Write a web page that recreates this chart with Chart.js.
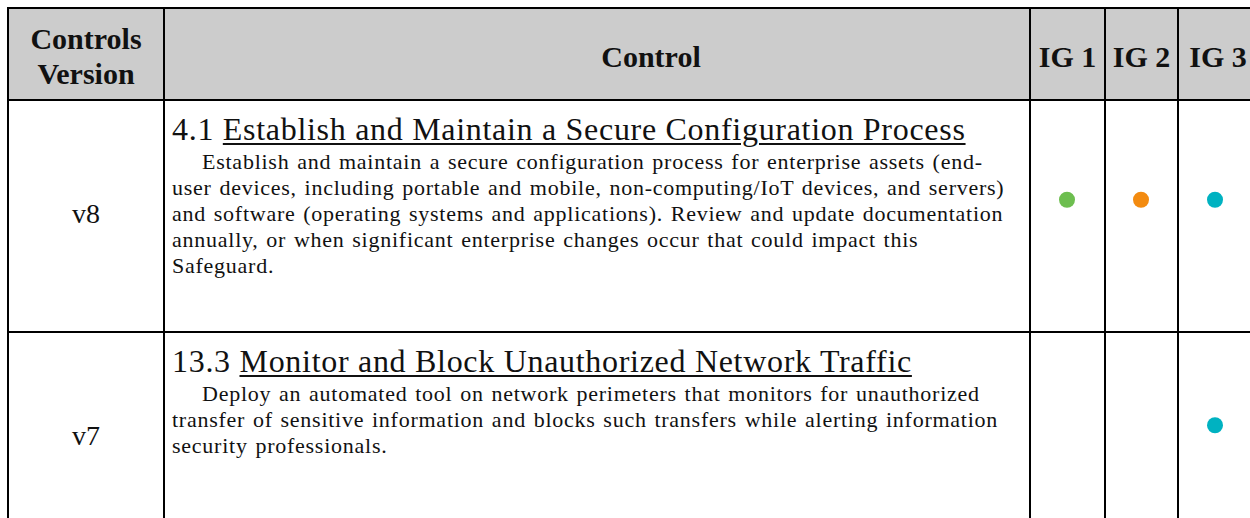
<!DOCTYPE html>
<html>
<head>
<meta charset="utf-8">
<script src="https://cdn.jsdelivr.net/npm/chart.js@4.4.0/dist/chart.umd.min.js"></script>
<style>
    html, body {
        margin: 0;
        padding: 0;
        width: 1250px;
        height: 518px;
        overflow: hidden;
        background: #fff;
        font-family: "Liberation Serif", "Times New Roman", serif;
        color: #111;
    }
    #grid {
        position: absolute;
        left: 7px;
        top: 7px;
        display: grid;
        grid-template-columns: 156px 866px 75px 73px 80px;
        grid-template-rows: 92px 232px 212px;
        border-left: 2px solid #000;
        border-top: 2px solid #000;
    }
    .cell {
        box-sizing: border-box;
        border-right: 2px solid #000;
        border-bottom: 2px solid #000;
    }
    .head {
        background: #cccccc;
        font-weight: bold;
        font-size: 30px;
        line-height: 35px;
        display: flex;
        align-items: center;
        justify-content: center;
        text-align: center;
        padding-top: 4px;
    }
    .head.wide {
        padding-left: 108px;
    }
    .version {
        font-size: 28px;
        display: flex;
        align-items: center;
        justify-content: center;
        padding-bottom: 5px;
    }
    .control {
        padding: 8px 0 0 7px;
        white-space: nowrap;
    }
    .control .title {
        font-size: 32px;
        line-height: 40px;
        letter-spacing: 0.7px;
    }
    .control .title u {
        text-underline-offset: 3px;
        text-decoration-thickness: 1.5px;
    }
    .control .desc {
        font-size: 22px;
        line-height: 26px;
        letter-spacing: 0.75px;
        word-spacing: 1.5px;
    }
    .control .desc.first {
        text-indent: 30px;
    }
    #dots {
        position: absolute;
        left: 1030px;
        top: 87px;
        width: 222px;
        height: 451px;
    }
</style>
</head>
<body>
<div id="grid"></div>
<div id="dots"><canvas id="igChart" width="222" height="451"></canvas></div>

<script>
// table content
const headers = ['Controls<br>Version', 'Control', 'IG 1', 'IG 2', 'IG 3'];
const versions = ['v8', 'v7'];
const controlIds = ['4.1', '13.3'];
const controlTitles = [
    'Establish and Maintain a Secure Configuration Process',
    'Monitor and Block Unauthorized Network Traffic'
];
const descV8 = [
    'Establish and maintain a secure configuration process for enterprise assets (end-',
    'user devices, including portable and mobile, non-computing/IoT devices, and servers)',
    'and software (operating systems and applications). Review and update documentation',
    'annually, or when significant enterprise changes occur that could impact this',
    'Safeguard.'
];
const descV7 = [
    'Deploy an automated tool on network perimeters that monitors for unauthorized',
    'transfer of sensitive information and blocks such transfers while alerting information',
    'security professionals.'
];
const descriptions = [descV8, descV7];

// implementation group marks, one per row
const igLabels = ['IG 1', 'IG 2', 'IG 3'];
const ig1 = [true, false];
const ig2 = [true, false];
const ig3 = [true, true];
const igColors = ['#6dbe4f', '#f38b10', '#00b2c1'];

function buildTable() {
    const grid = document.getElementById('grid');
    headers.forEach((h, i) => {
        const c = document.createElement('div');
        c.className = 'cell head' + (i === 1 ? ' wide' : '');
        c.innerHTML = h;
        grid.appendChild(c);
    });
    versions.forEach((v, i) => {
        const vc = document.createElement('div');
        vc.className = 'cell version';
        vc.textContent = v;
        grid.appendChild(vc);

        const cc = document.createElement('div');
        cc.className = 'cell control';
        let html = `<div class="title">${controlIds[i]} <u>${controlTitles[i]}</u></div>`;
        descriptions[i].forEach((line, j) => {
            html += `<div class="desc${j === 0 ? ' first' : ''}">${line}</div>`;
        });
        cc.innerHTML = html;
        grid.appendChild(cc);

        // empty IG cells, the dots come from the chart
        igLabels.forEach(() => {
            const e = document.createElement('div');
            e.className = 'cell';
            grid.appendChild(e);
        });
    });
}

function buildChart() {
    const flags = [ig1, ig2, ig3];
    const datasets = igLabels.map((label, k) => ({
        label: label,
        data: versions.filter((v, i) => flags[k][i]).map(v => ({ x: label, y: v })),
        backgroundColor: igColors[k],
        borderWidth: 0,
        pointRadius: 8,
        pointHoverRadius: 8
    }));

    new Chart(document.getElementById('igChart'), {
        type: 'scatter',
        data: { datasets: datasets },
        options: {
            responsive: false,
            animation: false,
            layout: { padding: 0, autoPadding: false },
            plugins: {
                legend: { display: false },
                tooltip: { enabled: false }
            },
            scales: {
                x: { type: 'category', labels: igLabels, offset: true, display: false },
                y: { type: 'category', labels: versions, offset: true, display: false }
            }
        }
    });
}

document.addEventListener('DOMContentLoaded', function() {
    buildTable();
    buildChart();
});
</script>
</body>
</html>
